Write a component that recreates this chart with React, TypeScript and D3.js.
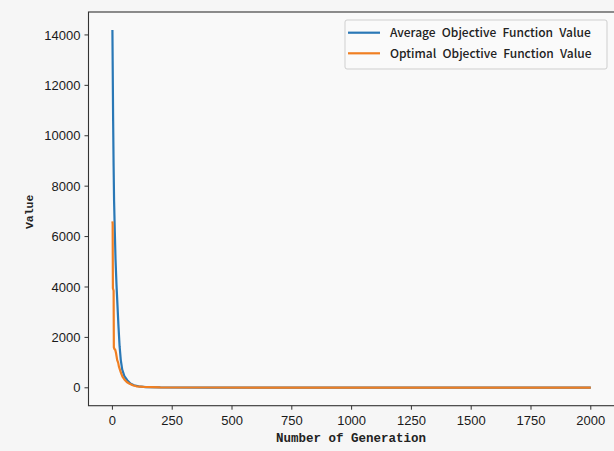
import React from "react";
import * as d3 from "d3";

const avgGen = [0, 1, 3, 5, 7, 10, 13, 17, 21, 25, 30, 35, 41, 50, 62, 75, 90, 110, 140, 200, 400, 1000, 2000];
const avgVal = [14200, 13000, 10600, 8800, 7400, 6200, 5100, 4100, 3300, 2500, 1650, 1100, 720, 460, 300, 170, 100, 60, 30, 15, 10, 7, 6];

const optGen = [0, 1, 2, 5, 6, 8, 12, 15, 20, 24, 27, 32, 37, 42, 50, 60, 70, 85, 100, 130, 200, 400, 1000, 2000];
const optVal = [6600, 6500, 3950, 3850, 1600, 1550, 1500, 1380, 1100, 1000, 850, 700, 560, 440, 330, 230, 170, 100, 60, 35, 18, 12, 8, 7];

const xTicks = [0, 250, 500, 750, 1000, 1250, 1500, 1750, 2000];
const yTicks = [0, 2000, 4000, 6000, 8000, 10000, 12000, 14000];

const seriesNames = ["Average Objective Function Value", "Optimal Objective Function Value"];
const seriesColors = ["#2a78b6", "#f07f22"];

export default function App() {
  const W = 614, H = 451;
  const left = 88.5, right = 614.7, top = 12, bottom = 405.7;
  const x = d3.scaleLinear().domain([-100, 2100]).range([left, right]);
  const y = d3.scaleLinear().domain([-710, 14910]).range([bottom, top]);

  const line = d3.line<[number, number]>().x(d => x(d[0])).y(d => y(d[1]));
  const avgPts = avgGen.map((g, i) => [g, avgVal[i]] as [number, number]);
  const optPts = optGen.map((g, i) => [g, optVal[i]] as [number, number]);
  const series = [avgPts, optPts];

  const tickFont = "'Liberation Sans', Arial, sans-serif";
  const labelFont = "'Liberation Mono', 'DejaVu Sans Mono', monospace";
  const legendFont = "'Noto Sans CJK SC', 'Noto Sans', sans-serif";

  return (
    <svg width={W} height={H} style={{ position: "fixed", left: 0, top: 0, display: "block" }}>
      <rect x={0} y={0} width={W} height={H} fill="#f6f6f6" />
      <rect x={left} y={top} width={right - left} height={bottom - top} fill="#f9f9f9" />
      {series.map((pts, i) => (
        <path key={i} d={line(pts) || ""} fill="none" stroke={seriesColors[i]} strokeWidth={2.2} strokeLinejoin="round" />
      ))}
      <rect x={left} y={top} width={right - left} height={bottom - top} fill="none" stroke="#333" strokeWidth={1.1} />
      {xTicks.map(t => (
        <g key={t} transform={`translate(${x(t)},${bottom})`}>
          <line y1={0} y2={4} stroke="#333" strokeWidth={1} />
          <text y={19} textAnchor="middle" fontFamily={tickFont} fontSize={13} fill="#1a1a1a">{t}</text>
        </g>
      ))}
      {yTicks.map(t => (
        <g key={t} transform={`translate(${left},${y(t)})`}>
          <line x1={0} x2={-4} stroke="#333" strokeWidth={1} />
          <text x={-8} dy="0.36em" textAnchor="end" fontFamily={tickFont} fontSize={13} fill="#1a1a1a">{t}</text>
        </g>
      ))}
      <text x={(left + 614.7) / 2 - 0.5} y={442} textAnchor="middle" fontFamily={labelFont} fontSize={12.5} fontWeight={700} fill="#222">Number of Generation</text>
      <text transform={`translate(33,${(top + bottom) / 2 + 3}) rotate(-90)`} textAnchor="middle" fontFamily={labelFont} fontSize={11.5} fontWeight={700} fill="#222">Value</text>
      <rect x={345} y={20} width={262} height={49} rx={2} fill="#fafafa" stroke="#cfcfcf" strokeWidth={1} />
      {seriesNames.map((n, i) => (
        <g key={n} transform={`translate(348,${32.7 + i * 20.6})`}>
          <line x1={0} x2={32} stroke={seriesColors[i]} strokeWidth={2.2} />
          <text x={42} dy="0.35em" fontFamily={legendFont} fontSize={12} fontWeight={500} wordSpacing={3.5} fill="#222">{n}</text>
        </g>
      ))}
    </svg>
  );
}
